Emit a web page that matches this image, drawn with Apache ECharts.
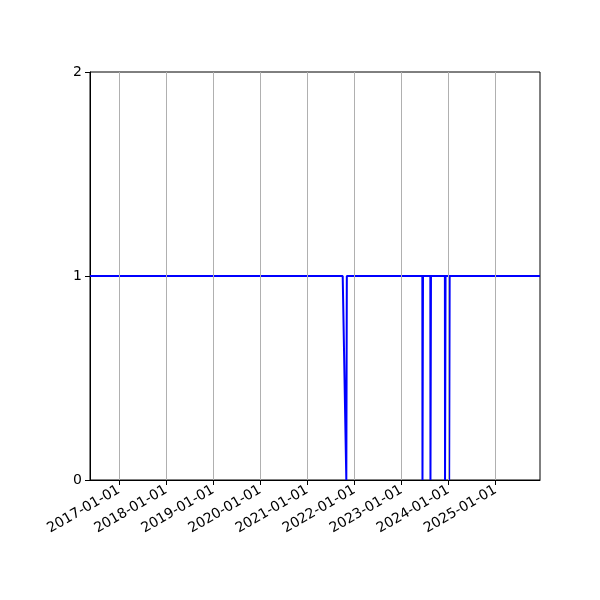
<!DOCTYPE html>
<html><head><meta charset="utf-8">
<script src="https://cdn.jsdelivr.net/npm/echarts@6/dist/echarts.min.js"></script>
<style>html,body{margin:0;padding:0;background:#fff}#c{width:600px;height:600px}</style>
</head><body><div id="c"></div>
<script>
const dates = ['2016-05-21','2021-10-03','2021-10-31','2021-11-04',
  '2023-06-13','2023-06-14','2023-06-17','2023-06-18',
  '2023-08-14','2023-08-15','2023-08-18','2023-08-19',
  '2023-12-05','2023-12-06','2023-12-09','2023-12-10',
  '2024-01-06','2024-01-07','2024-01-10','2024-01-11',
  '2025-12-12'];
const values = [1,1,0,1, 1,0,0,1, 1,0,0,1, 1,0,0,1, 1,0,0,1, 1];
const xTickLabels = ['2017-01-01','2018-01-01','2019-01-01','2020-01-01','2021-01-01',
  '2022-01-01','2023-01-01','2024-01-01','2025-01-01'];
const yTicks = [0,1,2];
const xMin = '2016-05-21', xMax = '2025-12-12';

const ts = s => Date.parse(s);
const xTicks = xTickLabels.map(ts);
const fmt = v => new Date(v).toISOString().slice(0,10);

const chart = echarts.init(document.getElementById('c'), null, {renderer:'canvas'});
chart.setOption({
  animation: false,
  backgroundColor: '#fff',
  grid: {left: 90, right: 60, top: 72, bottom: 120, show: true, borderColor: '#000', borderWidth: 1, backgroundColor: 'transparent'},
  xAxis: {
    type: 'value', min: ts(xMin), max: ts(xMax), scale: true,
    axisLine: {show: true, lineStyle: {color: '#000', width: 1}},
    axisTick: {show: true, customValues: xTicks, length: 5, lineStyle: {color: '#000'}},
    axisLabel: {customValues: xTicks, formatter: fmt, rotate: 30, margin: 9,
      color: '#000', fontFamily: 'DejaVu Sans', fontSize: 14},
    splitLine: {show: false}
  },
  yAxis: {
    type: 'value', min: yTicks[0], max: yTicks[yTicks.length-1], interval: 1,
    axisLine: {show: true, lineStyle: {color: '#000', width: 1}},
    axisTick: {show: true, length: 5, lineStyle: {color: '#000'}},
    axisLabel: {color: '#000', fontFamily: 'DejaVu Sans', fontSize: 14, margin: 8},
    splitLine: {show: false}
  },
  series: [
    {
      type: 'line', z: 1, data: [], silent: true,
      markLine: {
        silent: true, symbol: ['none','none'], label: {show: false},
        lineStyle: {color: '#b0b0b0', width: 1, type: 'solid'},
        emphasis: {disabled: true},
        data: xTicks.map(t => ({xAxis: t}))
      }
    },
    {
      type: 'line', z: 3, showSymbol: false, symbol: 'none',
      lineStyle: {color: '#0000ff', width: 2},
      data: dates.map((d, i) => [ts(d), values[i]])
    }
  ]
});
</script>
</body></html>
